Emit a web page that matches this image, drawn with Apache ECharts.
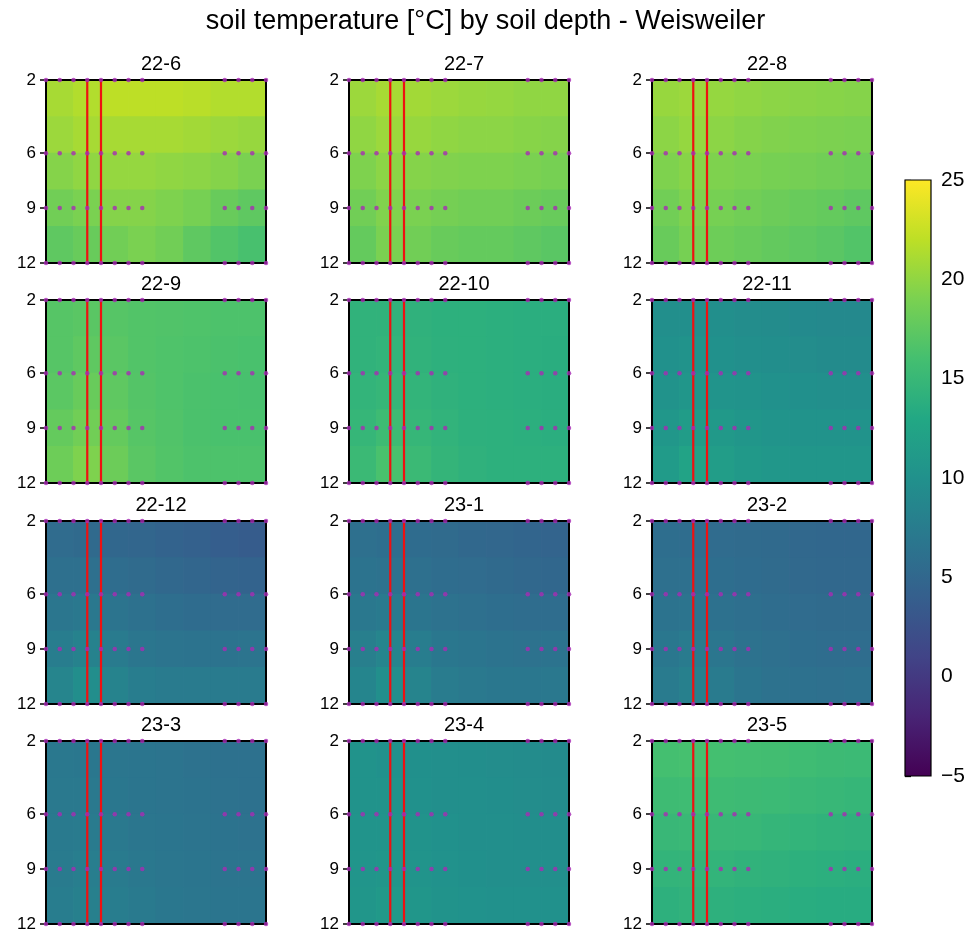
<!DOCTYPE html>
<html><head><meta charset="utf-8">
<script src="https://cdn.jsdelivr.net/npm/echarts@6/dist/echarts.min.js"></script>
<style>html,body{margin:0;padding:0;background:#fff}#c{width:971px;height:934px}</style>
</head><body><div id="c"></div>
<script>
// ---------- data ----------
const chartTitle = 'soil temperature [°C] by soil depth - Weisweiler';
const months = ['22-6','22-7','22-8','22-9','22-10','22-11','22-12','23-1','23-2','23-3','23-4','23-5'];
const depthTicks = [2, 6, 9, 12];
const sensorX = [0, 1, 2, 3, 4, 5, 6, 7, 13, 14, 15, 16];
const redLineX = [3, 4];
const cellEdgesX = [0, 2, 4, 6, 8, 10, 12, 14, 16];
const cellEdgesY = [2, 4, 6, 8, 10, 12];
const colorbarTicks = [-5, 0, 5, 10, 15, 20, 25];

// temperature grids: rows = depth bands (top->bottom), cols = x bands (left->right)
const t22_6 = [
  [21.0, 21.5, 22.0, 22.0, 22.0, 21.8, 21.5, 21.5],
  [20.5, 21.0, 21.0, 21.0, 21.0, 20.8, 20.5, 20.3],
  [19.5, 20.0, 20.2, 20.2, 20.0, 19.8, 19.5, 19.0],
  [18.5, 19.0, 19.5, 19.5, 19.2, 18.8, 18.0, 17.5],
  [17.5, 18.0, 18.5, 19.0, 18.5, 17.5, 16.8, 16.2]];
const t22_7 = [
  [20.5, 21.0, 20.8, 20.5, 20.3, 20.2, 20.0, 20.0],
  [20.0, 20.5, 20.3, 20.0, 19.8, 19.8, 19.6, 19.5],
  [19.2, 19.8, 19.5, 19.3, 19.2, 19.2, 19.0, 18.8],
  [18.5, 19.3, 19.0, 18.7, 18.5, 18.5, 18.2, 18.0],
  [17.8, 19.0, 18.5, 18.0, 17.8, 17.8, 17.5, 17.2]];
const t22_8 = [
  [20.3, 20.5, 20.2, 20.0, 19.8, 19.7, 19.6, 19.5],
  [19.8, 20.2, 19.8, 19.5, 19.3, 19.2, 19.1, 19.0],
  [19.2, 19.6, 19.2, 19.0, 18.8, 18.7, 18.5, 18.3],
  [18.5, 19.2, 18.8, 18.5, 18.2, 18.0, 17.8, 17.5],
  [18.0, 18.8, 18.3, 18.0, 17.7, 17.5, 17.2, 16.8]];
const t22_9 = [
  [17.0, 17.2, 17.0, 16.8, 16.7, 16.6, 16.5, 16.5],
  [17.0, 17.5, 17.2, 16.8, 16.6, 16.5, 16.4, 16.3],
  [17.3, 18.0, 17.5, 16.9, 16.6, 16.4, 16.3, 16.2],
  [17.8, 18.5, 17.8, 17.0, 16.7, 16.4, 16.3, 16.3],
  [18.3, 19.2, 18.2, 17.2, 16.8, 16.5, 16.5, 16.5]];
const t22_10 = [
  [14.3, 14.3, 14.2, 14.0, 14.0, 13.9, 13.8, 13.8],
  [14.3, 14.5, 14.3, 14.1, 14.0, 13.9, 13.8, 13.7],
  [14.5, 14.8, 14.5, 14.2, 14.0, 13.9, 13.8, 13.7],
  [14.8, 15.5, 14.8, 14.4, 14.1, 14.0, 13.9, 13.8],
  [15.2, 16.3, 15.2, 14.6, 14.2, 14.0, 14.0, 14.0]];
const t22_11 = [
  [9.8, 9.8, 9.7, 9.5, 9.4, 9.2, 9.0, 9.0],
  [10.0, 10.2, 10.0, 9.8, 9.6, 9.5, 9.3, 9.3],
  [10.3, 10.6, 10.4, 10.2, 10.0, 9.9, 9.8, 9.8],
  [10.8, 11.4, 11.0, 10.6, 10.4, 10.3, 10.2, 10.2],
  [11.3, 12.3, 11.6, 11.0, 10.8, 10.7, 10.6, 10.6]];
const t22_12 = [
  [5.5, 5.3, 5.0, 4.8, 4.5, 4.2, 3.9, 3.7],
  [6.0, 6.0, 5.7, 5.4, 5.1, 4.8, 4.6, 4.5],
  [6.8, 7.0, 6.5, 6.1, 5.8, 5.6, 5.5, 5.5],
  [7.6, 8.2, 7.4, 6.8, 6.5, 6.4, 6.4, 6.5],
  [8.5, 9.6, 8.3, 7.6, 7.3, 7.3, 7.3, 7.4]];
const t23_1 = [
  [6.0, 5.8, 5.6, 5.4, 5.1, 4.9, 4.7, 4.6],
  [6.4, 6.3, 6.0, 5.7, 5.5, 5.3, 5.1, 5.0],
  [7.0, 7.2, 6.7, 6.3, 6.0, 5.8, 5.7, 5.7],
  [7.8, 8.5, 7.6, 6.9, 6.6, 6.4, 6.3, 6.4],
  [8.6, 9.8, 8.4, 7.5, 7.1, 6.9, 6.9, 7.0]];
const t23_2 = [
  [5.8, 5.7, 5.5, 5.4, 5.3, 5.1, 5.0, 5.0],
  [6.0, 6.0, 5.8, 5.6, 5.4, 5.2, 5.1, 5.1],
  [6.4, 6.5, 6.2, 5.9, 5.7, 5.5, 5.4, 5.4],
  [6.9, 7.3, 6.8, 6.3, 6.0, 5.8, 5.7, 5.7],
  [7.4, 8.0, 7.3, 6.7, 6.3, 6.1, 6.0, 6.1]];
const t23_3 = [
  [7.0, 6.9, 6.8, 6.6, 6.5, 6.3, 6.2, 6.1],
  [7.1, 7.1, 6.9, 6.7, 6.5, 6.4, 6.3, 6.2],
  [7.2, 7.3, 7.1, 6.8, 6.6, 6.5, 6.4, 6.3],
  [7.4, 7.7, 7.4, 7.0, 6.8, 6.6, 6.5, 6.5],
  [7.6, 8.0, 7.6, 7.2, 6.9, 6.8, 6.7, 6.7]];
const t23_4 = [
  [10.2, 10.0, 9.9, 9.7, 9.6, 9.5, 9.4, 9.3],
  [10.3, 10.2, 10.0, 9.8, 9.7, 9.6, 9.5, 9.4],
  [10.4, 10.4, 10.2, 10.0, 9.8, 9.7, 9.6, 9.6],
  [10.5, 10.7, 10.4, 10.1, 9.9, 9.8, 9.8, 9.8],
  [10.7, 11.0, 10.6, 10.3, 10.1, 10.0, 10.0, 10.0]];
const t23_5 = [
  [16.0, 16.1, 16.0, 15.9, 15.8, 15.6, 15.4, 15.3],
  [15.5, 15.6, 15.5, 15.4, 15.3, 15.1, 14.9, 14.8],
  [15.0, 15.1, 15.0, 14.9, 14.7, 14.5, 14.3, 14.2],
  [14.5, 14.6, 14.5, 14.3, 14.2, 14.0, 13.9, 13.8],
  [14.1, 14.3, 14.1, 13.9, 13.8, 13.6, 13.5, 13.5]];
const panelGrids = [t22_6, t22_7, t22_8, t22_9, t22_10, t22_11, t22_12, t23_1, t23_2, t23_3, t23_4, t23_5];

// ---------- styles ----------
const viridis = ['#440154','#482475','#414487','#355f8d','#2a788e','#21918c','#22a884','#44bf70','#7ad151','#bddf26','#fde725'];
const FONT = '"Liberation Sans", Arial, Helvetica, sans-serif';
const colLeft = [46, 349, 652], rowTop = [80, 300, 521, 741], PW = 220, PH = 183;

const chart = echarts.init(document.getElementById('c'), null, {renderer: 'canvas'});

function renderCell(params, api) {
  const a = api.coord([api.value(0), api.value(2)]);
  const b = api.coord([api.value(1), api.value(3)]);
  const x = Math.min(a[0], b[0]), y = Math.min(a[1], b[1]);
  return {type: 'rect',
    shape: {x: x - 0.4, y: y - 0.4, width: Math.abs(b[0] - a[0]) + 0.8, height: Math.abs(b[1] - a[1]) + 0.8},
    style: {fill: api.visual('color')}};
}

const grids = [], xAxes = [], yAxes = [], series = [], titles = [], heatIdx = [];
titles.push({text: chartTitle, left: 'center', top: 3,
  textStyle: {fontFamily: FONT, fontSize: 27, fontWeight: 'normal', color: '#000'}});

months.forEach((m, i) => {
  const col = i % 3, row = Math.floor(i / 3);
  const left = colLeft[col], top = rowTop[row];
  grids.push({left: left, top: top, width: PW, height: PH, show: true, z: 5,
    borderColor: '#000', borderWidth: 2, backgroundColor: 'transparent', containLabel: false});
  xAxes.push({gridIndex: i, type: 'value', min: cellEdgesX[0], max: cellEdgesX[cellEdgesX.length - 1],
    show: false, splitLine: {show: false}});
  yAxes.push({gridIndex: i, type: 'value', min: cellEdgesY[0], max: cellEdgesY[cellEdgesY.length - 1], inverse: true,
    axisLine: {show: false},
    axisTick: {show: true, customValues: depthTicks, length: 6, lineStyle: {color: '#000', width: 1.5}},
    axisLabel: {customValues: depthTicks, fontFamily: FONT, fontSize: 17, color: '#000', margin: 10},
    splitLine: {show: false}});
  titles.push({text: m, left: left + PW / 2, top: top - 31, textAlign: 'center',
    textStyle: {fontFamily: FONT, fontSize: 20, fontWeight: 'normal', color: '#000'}});

  const grid = panelGrids[i];
  const cells = [];
  for (let r = 0; r < cellEdgesY.length - 1; r++) {
    for (let c = 0; c < cellEdgesX.length - 1; c++) {
      cells.push([cellEdgesX[c], cellEdgesX[c + 1], cellEdgesY[r], cellEdgesY[r + 1], grid[r][c]]);
    }
  }
  heatIdx.push(series.length);
  series.push({type: 'custom', xAxisIndex: i, yAxisIndex: i, z: 1, silent: true,
    renderItem: renderCell, encode: {x: [0, 1], y: [2, 3]}, data: cells, clip: false});

  redLineX.forEach(xv => {
    series.push({type: 'line', xAxisIndex: i, yAxisIndex: i, z: 6, silent: true, symbol: 'none',
      lineStyle: {color: '#ee1111', width: 2.2}, data: [[xv, cellEdgesY[0]], [xv, cellEdgesY[cellEdgesY.length - 1]]]});
  });

  const pts = [];
  depthTicks.forEach(d => sensorX.forEach(xv => pts.push([xv, d])));
  series.push({type: 'scatter', xAxisIndex: i, yAxisIndex: i, z: 7, silent: true, clip: false,
    symbol: 'circle', symbolSize: 4.5, itemStyle: {color: '#a82cb4'}, data: pts});
});

// colorbar
const cbi = months.length;
grids.push({left: 905, top: 180, width: 26, height: 596, show: true, z: 5,
  borderColor: '#000', borderWidth: 1.2, backgroundColor: 'transparent'});
xAxes.push({gridIndex: cbi, type: 'value', min: 0, max: 1, show: false});
yAxes.push({gridIndex: cbi, type: 'value', position: 'right',
  min: colorbarTicks[0], max: colorbarTicks[colorbarTicks.length - 1], interval: 5,
  axisLine: {show: false},
  axisTick: {show: true, length: 6, lineStyle: {color: '#000', width: 1.3}},
  axisLabel: {fontFamily: FONT, fontSize: 21, color: '#000', margin: 10,
    formatter: v => (v < 0 ? '\u2212' + Math.abs(v) : String(v))},
  splitLine: {show: false}});
series.push({type: 'custom', xAxisIndex: cbi, yAxisIndex: cbi, z: 1, silent: true,
  encode: {x: [0, 1], y: [2, 3]},
  data: [[0, 1, colorbarTicks[0], colorbarTicks[colorbarTicks.length - 1]]],
  renderItem: function (params, api) {
    const a = api.coord([api.value(0), api.value(2)]);
    const b = api.coord([api.value(1), api.value(3)]);
    return {type: 'rect',
      shape: {x: a[0], y: b[1], width: b[0] - a[0], height: a[1] - b[1]},
      style: {fill: new echarts.graphic.LinearGradient(0, 1, 0, 0,
        viridis.map((c, k) => ({offset: k / (viridis.length - 1), color: c})))}};
  }});

chart.setOption({
  animation: false,
  backgroundColor: '#fff',
  title: titles,
  grid: grids,
  xAxis: xAxes,
  yAxis: yAxes,
  visualMap: {type: 'continuous', show: false, min: colorbarTicks[0], max: colorbarTicks[colorbarTicks.length - 1],
    dimension: 4, seriesIndex: heatIdx, inRange: {color: viridis}},
  series: series
});
</script>
</body></html>
